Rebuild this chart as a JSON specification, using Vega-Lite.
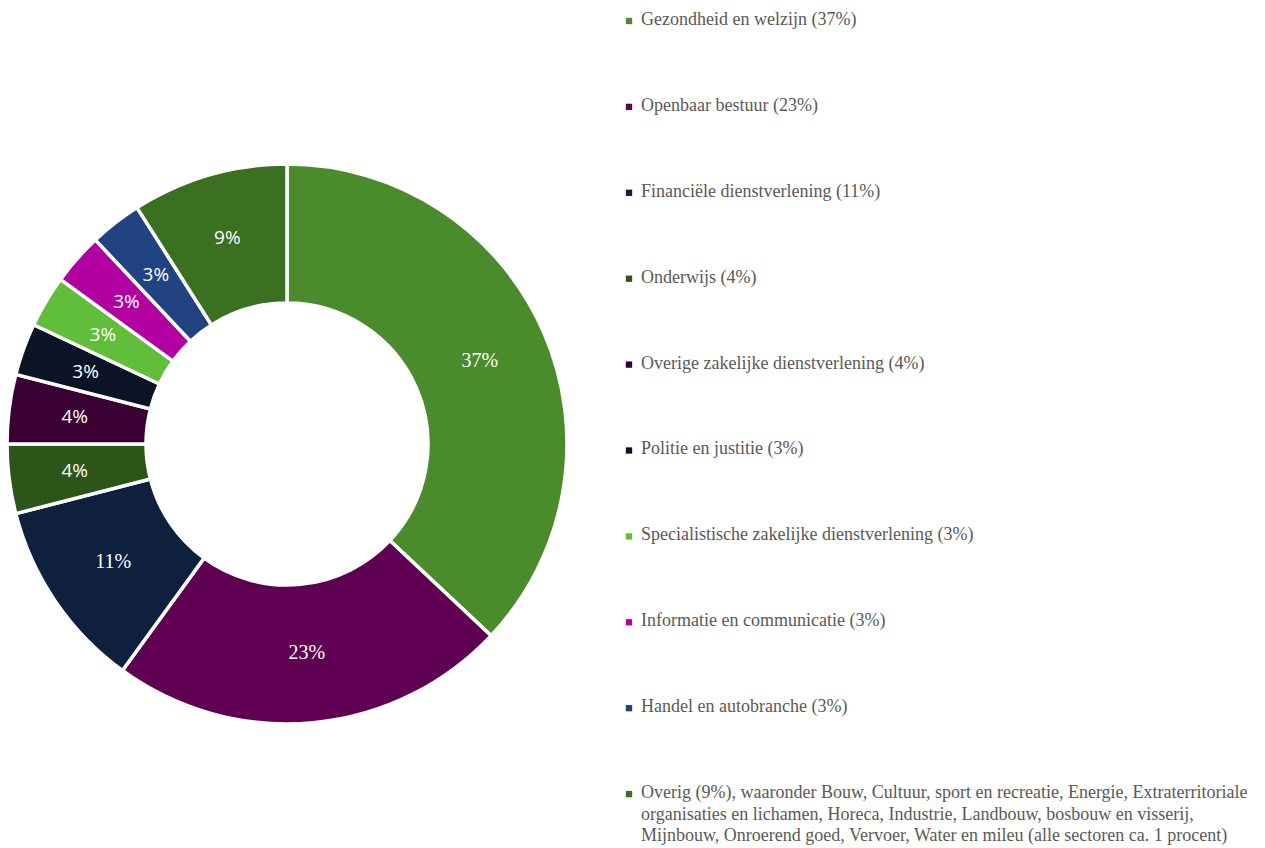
{
  "$schema": "https://vega.github.io/schema/vega-lite/v6.json",
  "padding": 0,
  "autosize": {"type": "pad"},
  "background": "white",
  "config": {"view": {"stroke": null}},
  "data": {"values": [
    {"idx": 1, "sector": "Gezondheid en welzijn", "value": 37, "pct": "37%", "legend": "Gezondheid en welzijn (37%)"},
    {"idx": 2, "sector": "Openbaar bestuur", "value": 23, "pct": "23%", "legend": "Openbaar bestuur (23%)"},
    {"idx": 3, "sector": "Financiële dienstverlening", "value": 11, "pct": "11%", "legend": "Financiële dienstverlening (11%)"},
    {"idx": 4, "sector": "Onderwijs", "value": 4, "pct": "4%", "legend": "Onderwijs (4%)"},
    {"idx": 5, "sector": "Overige zakelijke dienstverlening", "value": 4, "pct": "4%", "legend": "Overige zakelijke dienstverlening (4%)"},
    {"idx": 6, "sector": "Politie en justitie", "value": 3, "pct": "3%", "legend": "Politie en justitie (3%)"},
    {"idx": 7, "sector": "Specialistische zakelijke dienstverlening", "value": 3, "pct": "3%", "legend": "Specialistische zakelijke dienstverlening (3%)"},
    {"idx": 8, "sector": "Informatie en communicatie", "value": 3, "pct": "3%", "legend": "Informatie en communicatie (3%)"},
    {"idx": 9, "sector": "Handel en autobranche", "value": 3, "pct": "3%", "legend": "Handel en autobranche (3%)"},
    {"idx": 10, "sector": "Overig", "value": 9, "pct": "9%", "legend": "Overig (9%), waaronder Bouw, Cultuur, sport en recreatie, Energie, Extraterritoriale\norganisaties en lichamen, Horeca, Industrie, Landbouw, bosbouw en visserij,\nMijnbouw, Onroerend goed, Vervoer, Water en mileu (alle sectoren ca. 1 procent)"}
  ]},
  "spacing": 0,
  "hconcat": [
    {
      "spacing": 0,
      "vconcat": [
        {
          "width": 574,
          "height": 40,
          "mark": {"type": "text", "text": ""},
          "encoding": {}
        },
        {
          "width": 574,
          "height": 808,
          "encoding": {
            "theta": {"field": "value", "type": "quantitative", "stack": true},
            "order": {"field": "idx", "type": "quantitative"}
          },
          "layer": [
            {
              "mark": {"type": "arc", "radius": 280, "radius2": 141, "stroke": "white", "strokeWidth": 3.5},
              "encoding": {
                "color": {
                  "field": "sector",
                  "type": "nominal",
                  "legend": null,
                  "scale": {
                    "domain": ["Gezondheid en welzijn", "Openbaar bestuur", "Financiële dienstverlening", "Onderwijs", "Overige zakelijke dienstverlening", "Politie en justitie", "Specialistische zakelijke dienstverlening", "Informatie en communicatie", "Handel en autobranche", "Overig"],
                    "range": ["#4a8c2b", "#5f0052", "#0f1f3e", "#2d5419", "#3b0033", "#0a1425", "#60be3a", "#b300a1", "#214382", "#3a7020"]
                  }
                }
              }
            },
            {
              "mark": {"type": "text", "radius": 210, "color": "white", "font": "Liberation Serif", "fontSize": 20, "baseline": "middle", "align": "center"},
              "encoding": {"text": {"condition": {"test": "datum.value >= 10", "field": "pct"}, "value": ""}}
            },
            {
              "mark": {"type": "text", "radius": 214, "color": "white", "font": "Open Sans", "fontSize": 19, "baseline": "middle", "align": "center"},
              "encoding": {"text": {"condition": {"test": "datum.value < 10", "field": "pct"}, "value": ""}}
            }
          ]
        }
      ]
    },
    {
      "width": 691,
      "height": 848,
      "encoding": {
        "y": {"field": "idx", "type": "ordinal", "axis": null, "scale": {"type": "point", "padding": 0.436, "align": 0}}
      },
      "layer": [
        {
          "mark": {"type": "square", "x": 55, "yOffset": 21, "size": 40, "opacity": 1, "filled": true},
          "encoding": {
            "color": {"field": "sector", "type": "nominal", "legend": null}
          }
        },
        {
          "mark": {"type": "text", "x": 67, "yOffset": 11, "align": "left", "baseline": "top", "font": "Liberation Serif", "fontSize": 18, "lineHeight": 21.5, "lineBreak": "\n", "color": "#595959"},
          "encoding": {"text": {"field": "legend"}}
        }
      ]
    }
  ]
}
